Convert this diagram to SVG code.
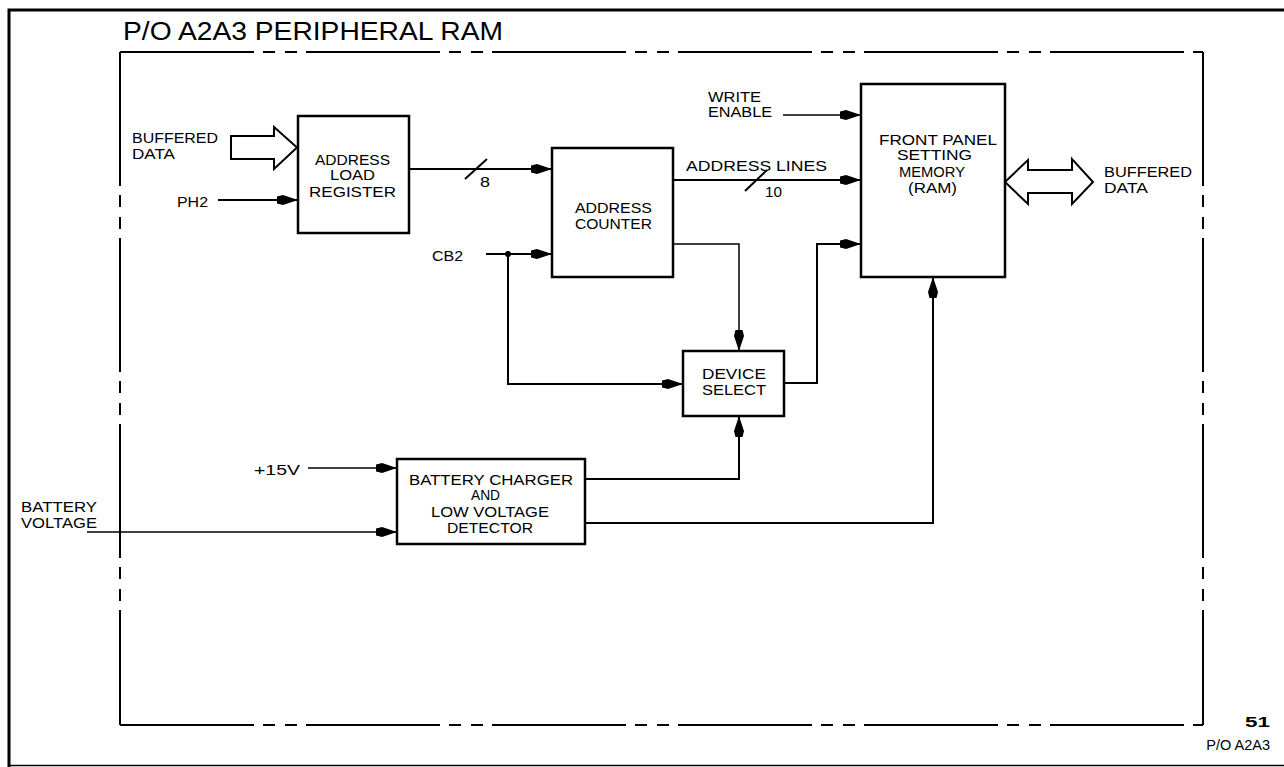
<svg xmlns="http://www.w3.org/2000/svg" width="1284" height="767" viewBox="0 0 1284 767">
<style>
.t{font-family:"Liberation Sans",Arial,sans-serif;font-size:14.5px;fill:#000}
.title{font-family:"Liberation Sans",Arial,sans-serif;font-size:25px;fill:#000}
.box{fill:#fff;stroke:#000;stroke-width:2.5}
.ln{fill:none;stroke:#000;stroke-width:2}
.thin{fill:none;stroke:#000;stroke-width:1.5}
.arr{marker-end:url(#ah)}
.dash{fill:none;stroke:#000;stroke-width:2;stroke-dasharray:134 9 12 10 12 9}
.hollow{fill:#fff;stroke:#000;stroke-width:2;stroke-linejoin:miter}
</style>
<defs>
<marker id="ah" markerUnits="userSpaceOnUse" markerWidth="26" markerHeight="14" viewBox="-24 -7 26 14" refX="0" refY="0" orient="auto">
<path d="M-21,-3.5 L-15,-5 L0,0 L-15,5 L-21,3.5 Z" fill="#000"/>
</marker>
</defs>

<g id="frame">
<path d="M9,767 V10 H1284" fill="none" stroke="#000" stroke-width="3"/>
<path d="M9,765.5 H1284" fill="none" stroke="#000" stroke-width="1.5"/>
<path class="dash" d="M120,52 H1203"/>
<path class="dash" d="M120,52 V725"/>
<path class="dash" d="M120,725 H1203"/>
<path class="dash" d="M1203,52 V725"/>
<text class="title" x="123" y="40" textLength="380" lengthAdjust="spacingAndGlyphs">P/O A2A3 PERIPHERAL RAM</text>
<text class="t" x="1245" y="727" font-size="20" font-weight="bold" textLength="25" lengthAdjust="spacingAndGlyphs">51</text>
<text class="t" x="1270" y="750" font-size="11" text-anchor="end">P/O A2A3</text>
</g>

<g id="connectors">
<polygon class="hollow" points="231,136 274,136 274,127 297,147.5 274,169 274,159 231,159"/>
<polygon class="hollow" points="1005,182 1028,160 1028,170 1072,170 1072,159 1093,182 1072,204 1072,193 1028,193 1028,204"/>
<path class="ln arr" d="M218,200 H298"/>
<path class="ln arr" d="M409,169 H552"/>
<path class="ln" d="M465,179 L487,159"/>
<path class="ln arr" d="M486,254 H552"/>
<circle cx="508" cy="254" r="3" fill="#000"/>
<path class="ln arr" d="M508,254 V384 H683"/>
<path class="thin arr" d="M783,115 H861"/>
<path class="ln arr" d="M673,180 H861"/>
<path class="ln" d="M745,191 L767,170"/>
<path class="thin arr" d="M673,244 H739 V351"/>
<path class="ln arr" d="M784,383 H817 V244 H861"/>
<path class="thin arr" d="M308,468 H397"/>
<path class="thin arr" d="M87,532 H397"/>
<path class="ln arr" d="M585,479 H739 V416"/>
<path class="ln arr" d="M585,523 H933 V277"/>
</g>

<g id="labels">
<text class="t" x="132" y="143" textLength="86" lengthAdjust="spacingAndGlyphs">BUFFERED</text>
<text class="t" x="132" y="159" textLength="43" lengthAdjust="spacingAndGlyphs">DATA</text>
<text class="t" x="177" y="207" textLength="31" lengthAdjust="spacingAndGlyphs">PH2</text>
<text class="t" x="480" y="187" textLength="10" lengthAdjust="spacingAndGlyphs">8</text>
<text class="t" x="432" y="261" textLength="31" lengthAdjust="spacingAndGlyphs">CB2</text>
<text class="t" x="708" y="102" textLength="53" lengthAdjust="spacingAndGlyphs">WRITE</text>
<text class="t" x="708" y="117" textLength="64" lengthAdjust="spacingAndGlyphs">ENABLE</text>
<text class="t" x="686" y="171" textLength="141" lengthAdjust="spacingAndGlyphs">ADDRESS LINES</text>
<text class="t" x="765" y="197" textLength="17" lengthAdjust="spacingAndGlyphs">10</text>
<text class="t" x="1104" y="177" textLength="88" lengthAdjust="spacingAndGlyphs">BUFFERED</text>
<text class="t" x="1104" y="193" textLength="44" lengthAdjust="spacingAndGlyphs">DATA</text>
<text class="t" x="254" y="475" textLength="46" lengthAdjust="spacingAndGlyphs">+15V</text>
<text class="t" x="21" y="512" textLength="76" lengthAdjust="spacingAndGlyphs">BATTERY</text>
<text class="t" x="21" y="528" textLength="76" lengthAdjust="spacingAndGlyphs">VOLTAGE</text>
</g>

<g id="address-load-register">
<rect class="box" x="298" y="116" width="111" height="117"/>
<text class="t" x="315" y="165" textLength="75" lengthAdjust="spacingAndGlyphs">ADDRESS</text>
<text class="t" x="330" y="180" textLength="45" lengthAdjust="spacingAndGlyphs">LOAD</text>
<text class="t" x="309" y="197" textLength="87" lengthAdjust="spacingAndGlyphs">REGISTER</text>
</g>

<g id="address-counter">
<rect class="box" x="552" y="148" width="121" height="129"/>
<text class="t" x="575" y="213" textLength="77" lengthAdjust="spacingAndGlyphs">ADDRESS</text>
<text class="t" x="575" y="229" textLength="77" lengthAdjust="spacingAndGlyphs">COUNTER</text>
</g>

<g id="front-panel-memory">
<rect class="box" x="861" y="84" width="144" height="193"/>
<text class="t" x="879" y="145" textLength="118" lengthAdjust="spacingAndGlyphs">FRONT PANEL</text>
<text class="t" x="897" y="160" textLength="75" lengthAdjust="spacingAndGlyphs">SETTING</text>
<text class="t" x="899" y="177" textLength="66" lengthAdjust="spacingAndGlyphs">MEMORY</text>
<text class="t" x="908" y="193" textLength="49" lengthAdjust="spacingAndGlyphs">(RAM)</text>
</g>

<g id="device-select">
<rect class="box" x="683" y="351" width="101" height="65"/>
<text class="t" x="702" y="379" textLength="64" lengthAdjust="spacingAndGlyphs">DEVICE</text>
<text class="t" x="702" y="395" textLength="64" lengthAdjust="spacingAndGlyphs">SELECT</text>
</g>

<g id="battery-charger">
<rect class="box" x="397" y="459" width="188" height="85"/>
<text class="t" x="409" y="485" textLength="164" lengthAdjust="spacingAndGlyphs">BATTERY CHARGER</text>
<text class="t" x="471" y="500" textLength="29" lengthAdjust="spacingAndGlyphs">AND</text>
<text class="t" x="431" y="517" textLength="118" lengthAdjust="spacingAndGlyphs">LOW VOLTAGE</text>
<text class="t" x="447" y="533" textLength="86" lengthAdjust="spacingAndGlyphs">DETECTOR</text>
</g>
</svg>
